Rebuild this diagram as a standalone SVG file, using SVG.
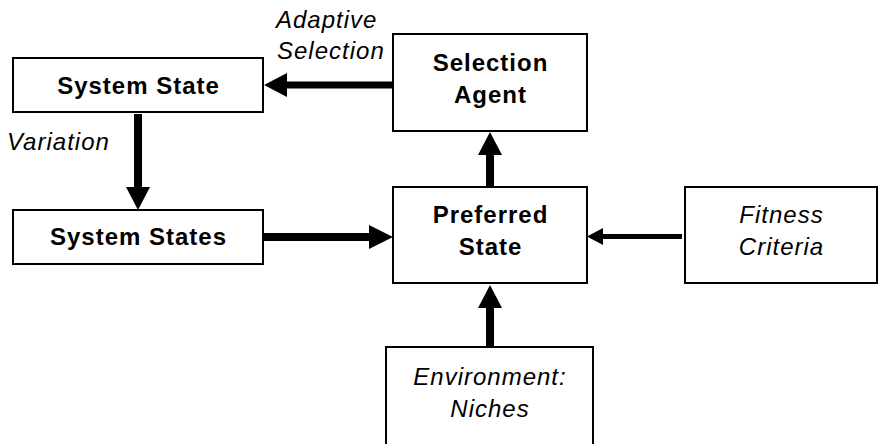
<svg xmlns="http://www.w3.org/2000/svg" width="878" height="444" viewBox="0 0 878 444">
  <style>
    .box { fill: #fff; stroke: #000; stroke-width: 2; }
    .t { font-family: "Liberation Sans", Arial, sans-serif; font-size: 24px; letter-spacing: 1px; fill: #000; }
    .b { font-weight: bold; text-anchor: middle; }
    .i { font-style: italic; text-anchor: middle; }
    .lbl { font-style: italic; }
    .shaft { stroke: #000; fill: none; }
    .head { fill: #000; }
  </style>
  <rect width="878" height="444" fill="#fff"/>

  <g id="connectors">
    <!-- Selection Agent -> System State -->
    <line class="shaft" x1="393" y1="85" x2="285" y2="85" stroke-width="7"/>
    <polygon class="head" points="264,85 287,73 287,97"/>
    <!-- System State -> System States -->
    <line class="shaft" x1="138" y1="114" x2="138" y2="189" stroke-width="8"/>
    <polygon class="head" points="138,210 126,187 150,187"/>
    <!-- System States -> Preferred State -->
    <line class="shaft" x1="264" y1="237" x2="371" y2="237" stroke-width="8"/>
    <polygon class="head" points="393,237 369,225 369,249"/>
    <!-- Preferred State -> Selection Agent -->
    <line class="shaft" x1="490" y1="187" x2="490" y2="153" stroke-width="8"/>
    <polygon class="head" points="490,132 478,155 502,155"/>
    <!-- Fitness Criteria -> Preferred State -->
    <line class="shaft" x1="682" y1="236.5" x2="601" y2="236.5" stroke-width="5"/>
    <polygon class="head" points="587,236.5 603,228 603,245"/>
    <!-- Environment -> Preferred State -->
    <line class="shaft" x1="490" y1="347" x2="490" y2="306" stroke-width="8"/>
    <polygon class="head" points="490,285 478,308 502,308"/>
    <!-- edge labels -->
    <text class="t lbl" x="276" y="28">Adaptive</text>
    <text class="t lbl" x="277" y="59">Selection</text>
    <text class="t lbl" x="7" y="150">Variation</text>
  </g>

  <g id="system-state">
    <rect class="box" x="13" y="58" width="250" height="54"/>
    <text class="t b" x="138.5" y="94">System State</text>
  </g>

  <g id="selection-agent">
    <rect class="box" x="393" y="34" width="194" height="97"/>
    <text class="t b" x="490.5" y="71">Selection</text>
    <text class="t b" x="490.5" y="103">Agent</text>
  </g>

  <g id="system-states">
    <rect class="box" x="13" y="210" width="250" height="54"/>
    <text class="t b" x="138.5" y="245">System States</text>
  </g>

  <g id="preferred-state">
    <rect class="box" x="393" y="187" width="194" height="96"/>
    <text class="t b" x="490.5" y="223">Preferred</text>
    <text class="t b" x="490.5" y="255">State</text>
  </g>

  <g id="fitness-criteria">
    <rect class="box" x="685" y="187" width="192" height="96"/>
    <text class="t i" x="781.5" y="223">Fitness</text>
    <text class="t i" x="781.5" y="255">Criteria</text>
  </g>

  <g id="environment">
    <rect class="box" x="386" y="347" width="207" height="100"/>
    <text class="t i" x="490" y="385">Environment:</text>
    <text class="t i" x="490" y="417">Niches</text>
  </g>
</svg>
